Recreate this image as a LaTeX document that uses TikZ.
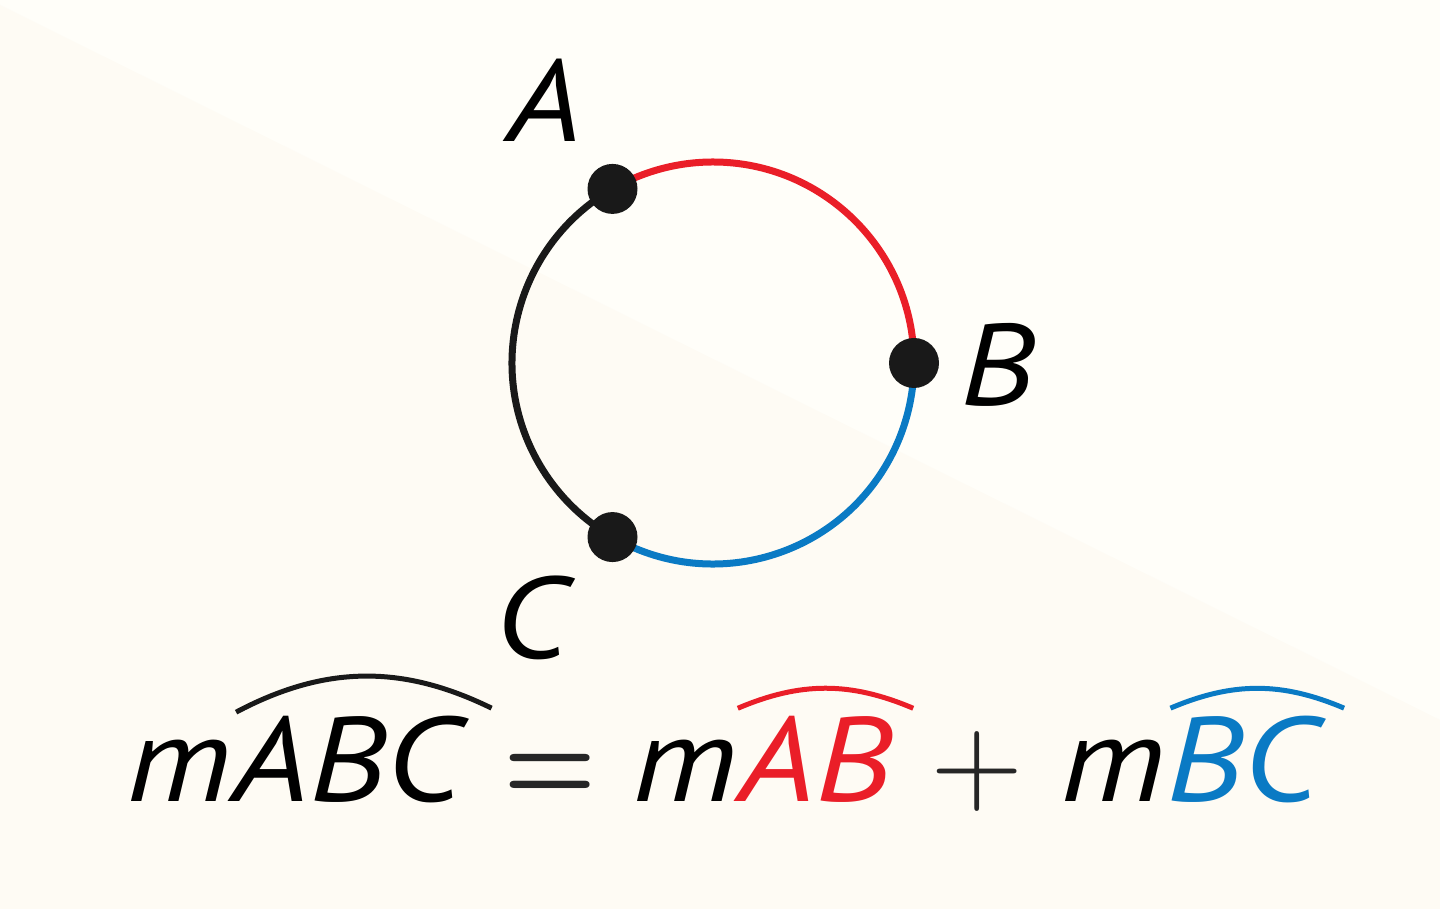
\documentclass[tikz,border=0pt]{standalone}
\usepackage{fontspec}
\setmainfont[FakeStretch=1.15]{PT Sans}
\newfontfamily\signfont[Extension=.otf]{lmroman10-regular}
\newfontfamily\eqfont[Extension=.otf]{lmromandemi10-regular}
\usetikzlibrary{positioning}
\definecolor{arcred}{RGB}{234,30,40}
\definecolor{arcblue}{RGB}{10,122,196}
\definecolor{paperlight}{RGB}{255,254,249}
\definecolor{paperdark}{RGB}{254,251,244}
\begin{document}
\begin{tikzpicture}[x=0.5pt, y=0.5pt,
    letter/.style={font=\fontsize{58}{60}\selectfont\itshape, inner sep=0pt},
    eqpart/.style={font=\fontsize{60}{62}\selectfont\itshape, inner sep=0pt},
    eqsign/.style={font=\fontsize{60}{62}\signfont, inner sep=0pt, text=black!85},
    ring/.style={line width=3.5pt},
    overarc/.style={line width=2.5pt},
    dot/.style={circle, fill=black!90, inner sep=0pt, minimum size=25pt}]
    % paper
    \fill[paperlight] (0,0) rectangle (1440,909);
    \fill[paperdark] (0,904) -- (1440,189) -- (1440,0) -- (0,0) -- cycle;
    \useasboundingbox (0,0) rectangle (1440,909);
    % circle and its three points
    \coordinate (O) at (713,546);
    \path (O) ++(120:201) coordinate (A);
    \path (O) ++(0:201) coordinate (B);
    \path (O) ++(-120:201) coordinate (C);
    \draw[ring, black!90] (A) arc (120:240:201);
    \draw[ring, arcred] (B) arc (0:120:201);
    \draw[ring, arcblue] (C) arc (-120:0:201);
    \node[dot] (dotA) at (A) {};
    \node[dot] (dotB) at (B) {};
    \node[dot] (dotC) at (C) {};
    \node[letter] (labA) at (545,809) {A};
    \node[letter] (labB) at (998,544) {B};
    \node[letter] (labC) at (532,291) {C};
    % the equation
    \node[eqpart, anchor=base west] (m1) at (126,107) {m};
    \node[eqpart, base right=0pt of m1] (ABC) {ABC};
    \node[eqsign, base right=21pt of ABC, font=\fontsize{60}{62}\eqfont] (equals) {=};
    \node[eqpart, base right=17pt of equals] (m2) {m};
    \node[eqpart, base right=0pt of m2, text=arcred] (AB) {AB};
    \node[eqsign, base right=19pt of AB] (plus) {+};
    \node[eqpart, base right=18pt of plus] (m3) {m};
    \node[eqpart, base right=0pt of m3, text=arcblue] (BC) {BC};
    \draw[overarc, black!90] ([xshift=2pt, yshift=2pt]ABC.north west) to[bend left=27] ([xshift=15pt, yshift=4pt]ABC.north east);
    \draw[overarc, arcred] ([xshift=0pt, yshift=4pt]AB.north west) to[bend left=23] ([xshift=10.5pt, yshift=4pt]AB.north east);
    \draw[overarc, arcblue] ([xshift=2pt, yshift=4pt]BC.north west) to[bend left=23] ([xshift=12.5pt, yshift=4pt]BC.north east);
\end{tikzpicture}
\end{document}
